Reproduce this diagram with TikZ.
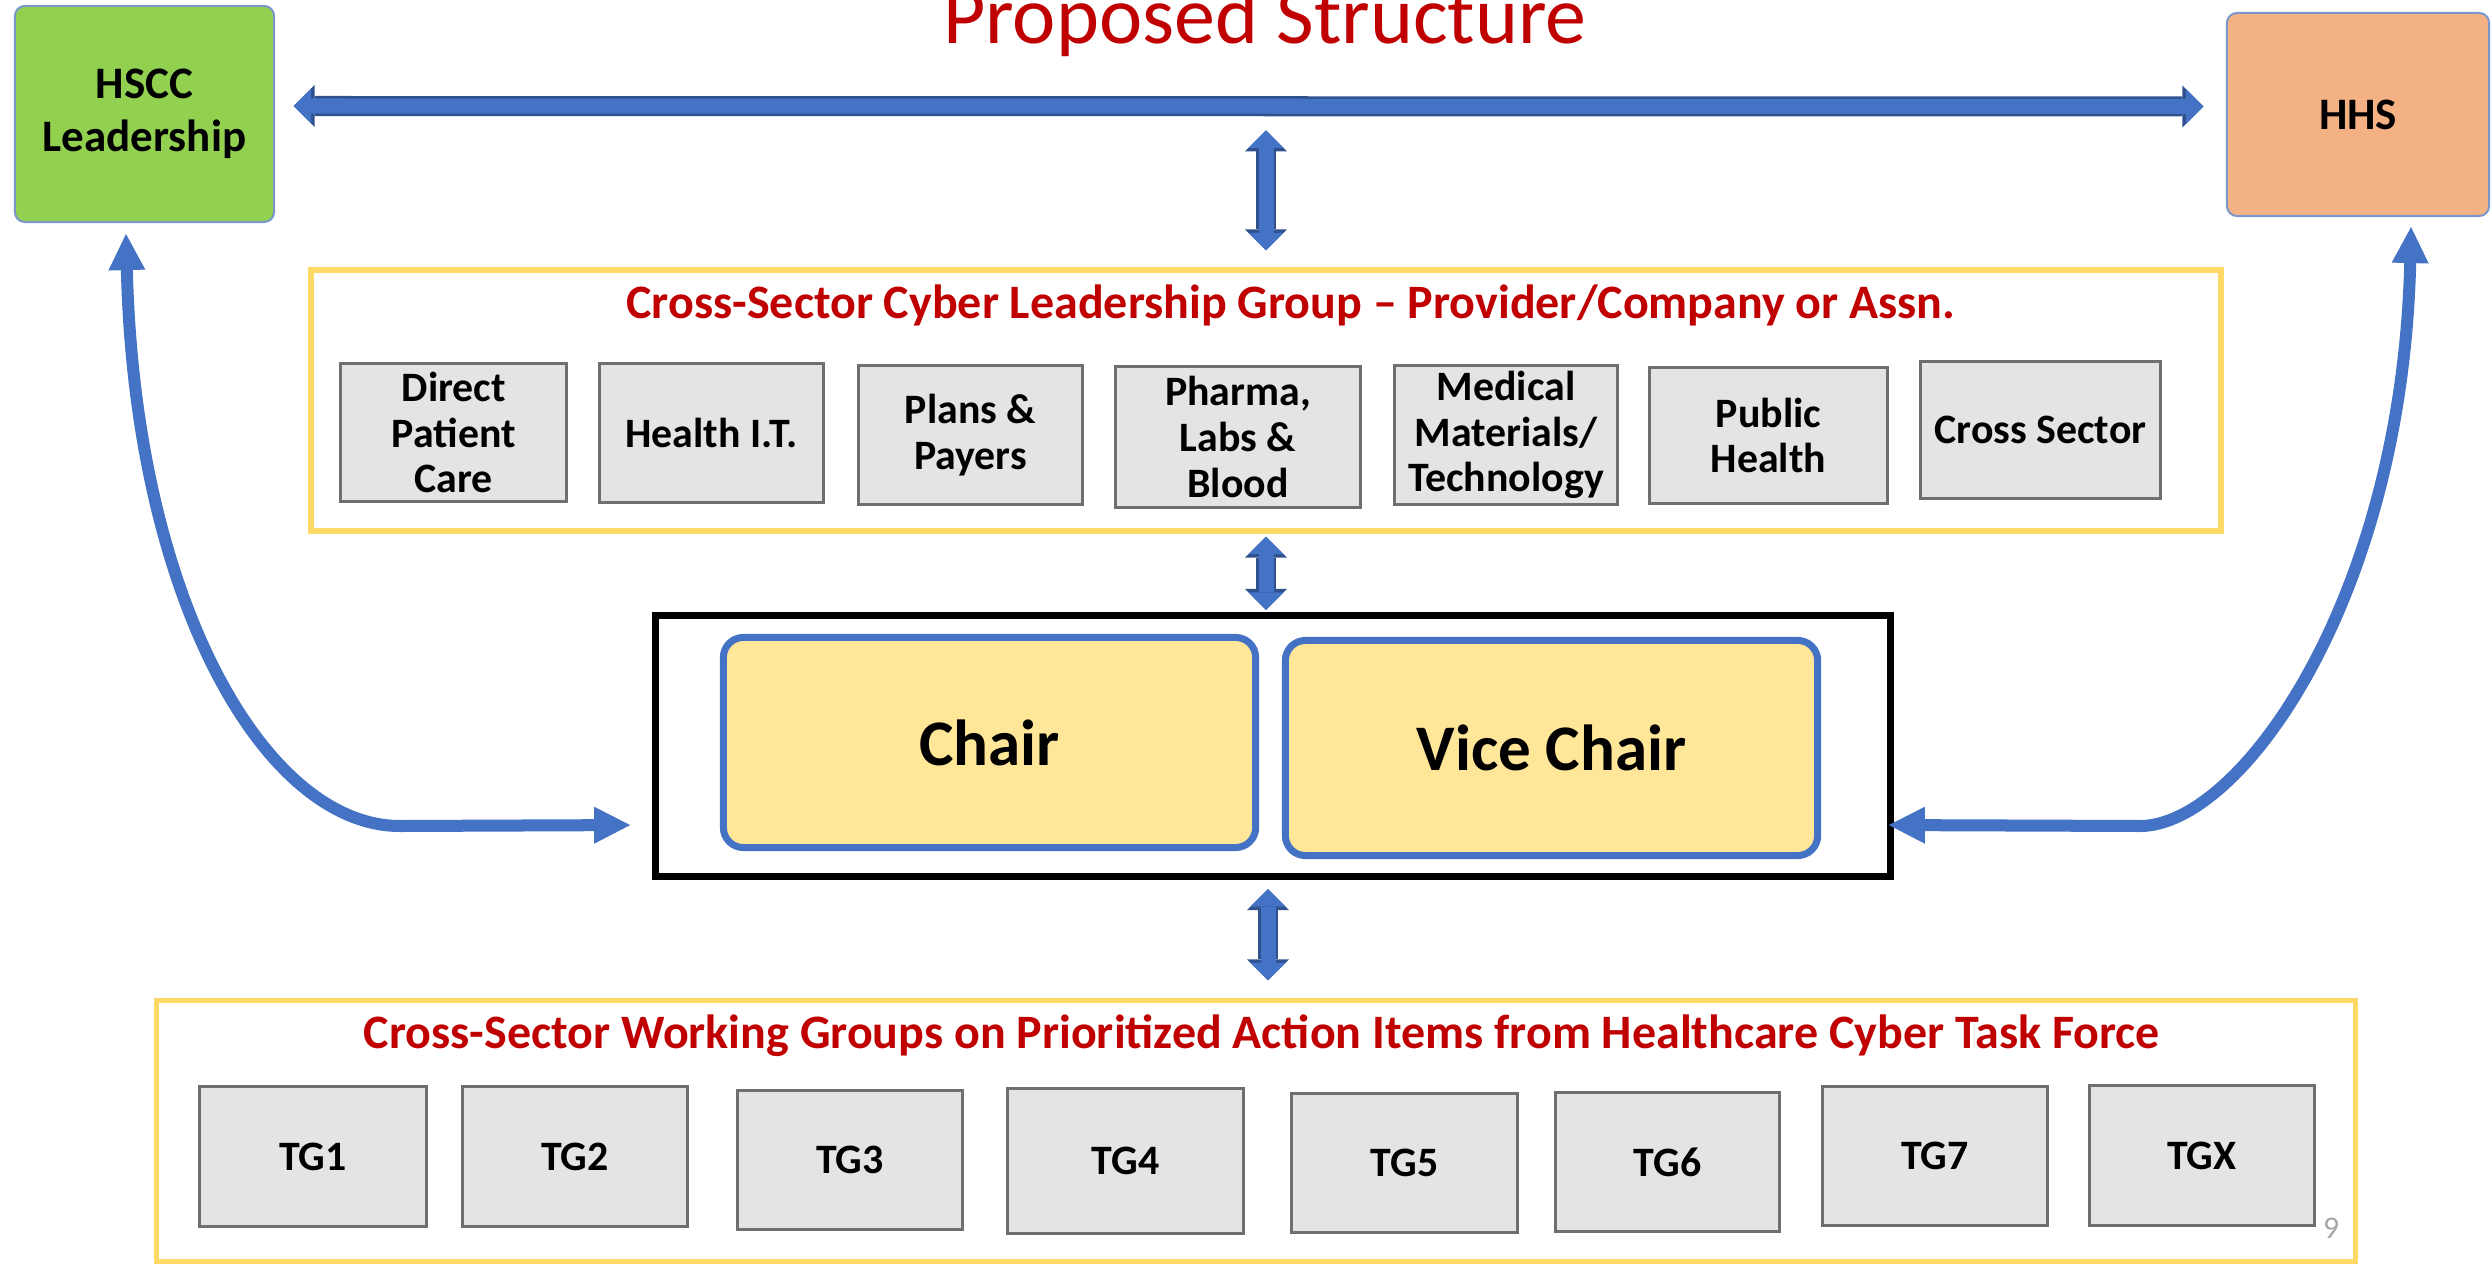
\documentclass[tikz,border=0pt]{standalone}
\usepackage{fontspec}
\setmainfont{Carlito}
\usetikzlibrary{positioning,arrows.meta}

\definecolor{hsccgreen}{HTML}{92D050}
\definecolor{hhsorange}{HTML}{F4B183}
\definecolor{orgedge}{HTML}{7A96CC}
\definecolor{titlered}{HTML}{C00000}
\definecolor{frameyellow}{HTML}{FFD966}
\definecolor{tilefill}{HTML}{E4E4E4}
\definecolor{tileedge}{HTML}{6F6F6F}
\definecolor{chairfill}{HTML}{FFE699}
\definecolor{chairblue}{HTML}{4472C4}
\definecolor{arrowblue}{HTML}{4472C4}
\definecolor{arrowedge}{HTML}{2F528F}
\definecolor{pagegray}{HTML}{A6A6A6}

\tikzset{
  orgbox/.style={draw=orgedge, line width=0.02cm, rounded corners=0.1cm, inner sep=0pt, align=center,
    font=\bfseries\fontsize{12.8}{15}\selectfont},
  frame/.style={draw=frameyellow, line width=0.06cm, inner sep=0pt},
  tile/.style={draw=tileedge, line width=0.03cm, fill=tilefill, inner sep=0pt, minimum height=1.39cm,
    align=center, font=\bfseries\fontsize{11.9}{13}\selectfont},
  seat/.style={draw=chairblue, line width=0.07cm, fill=chairfill, rounded corners=0.2cm,
    minimum width=5.32cm, font=\bfseries\fontsize{18.5}{22}\selectfont},
  heading/.style={text=titlered, anchor=base, inner sep=0pt, font=\bfseries\fontsize{13.65}{16}\selectfont},
  outertip/.style={arrows={Triangle[width=0.42cm,length=0.21cm,line width=0pt]-Triangle[width=0.42cm,length=0.21cm,line width=0pt]}},
  innertip/.style={arrows={Triangle[width=0.35cm,length=0.175cm,line width=0pt]-Triangle[width=0.35cm,length=0.175cm,line width=0pt]}},
  blockarrow/.style={preaction={draw=arrowedge, line width=0.2cm, outertip},
    draw=arrowblue, line width=0.15cm, innertip, shorten <=0.025cm, shorten >=0.025cm},
  curvearrow/.style={draw=arrowblue, line width=0.12cm,
    arrows={Triangle[width=0.37cm,length=0.36cm,line width=0pt]-Triangle[width=0.37cm,length=0.36cm,line width=0pt]}}
}

\begin{document}
\begin{tikzpicture}[x=0.01cm, y=-0.01cm]
  \useasboundingbox (0,0) rectangle (2492,1264);

  % top row
  \node[orgbox, fill=hsccgreen, minimum width=2.59cm, minimum height=2.16cm] (hscc) at (144.5,114) {HSCC\\Leadership};
  \node[orgbox, fill=hhsorange, minimum width=2.62cm, minimum height=2.03cm] (hhs) at (2358,114.5) {HHS};
  \node[text=titlered, anchor=base, inner sep=0pt, font=\fontsize{23.3}{28}\selectfont] (title) at (1265,44) {Proposed Structure};

  % leadership group
  \node[frame, minimum width=19.08cm, minimum height=2.61cm] (lead) at (1266,400.5) {};
  \node[heading] (leadtitle) at (1291,318) {Cross-Sector Cyber Leadership Group -- Provider/Company or Assn.};
  \node[tile, minimum width=2.255cm, minimum height=1.38cm] (care) at (453.75,432.5) {Direct\\Patient\\Care};
  \node[tile, minimum width=2.24cm] (healthit) at (711.5,433) {Health I.T.};
  \node[tile, minimum width=2.24cm] (plans) at (970.5,435) {Plans \&\\Payers};
  \node[tile, minimum width=2.45cm, minimum height=1.41cm] (pharma) at (1238,437) {Pharma,\\Labs \&\\Blood};
  \node[tile, minimum width=2.23cm] (medical) at (1506,435) {Medical\\Materials/\\Technology};
  \node[tile, minimum width=2.38cm, minimum height=1.36cm] (public) at (1768.5,435.5) {Public\\Health};
  \node[tile, minimum width=2.40cm, minimum height=1.37cm] (crosssector) at (2040.5,430) {Cross Sector};

  % chair board
  \node[draw, line width=0.07cm, minimum width=12.34cm, minimum height=2.6cm] (board) at (1273,746) {};
  \node[seat, minimum height=2.1cm] (chair) at (989.5,742.5) {Chair};
  \node[seat, minimum height=2.15cm] (vicechair) at (1551.5,748) {Vice Chair};

  % working groups
  \node[frame, line width=0.05cm, minimum width=21.97cm, minimum height=2.605cm] (work) at (1256,1130.75) {};
  \node[heading] (worktitle) at (1262,1048) {Cross-Sector Working Groups on Prioritized Action Items from Healthcare Cyber Task Force};
  \node[tile, minimum width=2.27cm] (tg1) at (313,1156.5) {TG1};
  \node[tile, minimum width=2.25cm] (tg2) at (575,1156.5) {TG2};
  \node[tile, minimum width=2.25cm] (tg3) at (850,1160) {TG3};
  \node[tile, minimum width=2.36cm, minimum height=1.45cm] (tg4) at (1125.5,1161) {TG4};
  \node[tile, minimum width=2.26cm] (tg5) at (1404.5,1163) {TG5};
  \node[tile, minimum width=2.24cm] (tg6) at (1667.5,1162) {TG6};
  \node[tile, minimum width=2.25cm] (tg7) at (1935,1156) {TG7};
  \node[tile, minimum width=2.25cm, minimum height=1.40cm] (tgx) at (2202,1155.5) {TGX};
  \node[text=pagegray, inner sep=0pt, font=\fontsize{9}{10}\selectfont] (pageno) at (2331,1228) {9};

  % connectors
  \coordinate (relay) at ([yshift=1.39cm]lead.north);
  \draw[blockarrow] ([xshift=0.16cm,yshift=0.08cm]hscc.east) -- ([xshift=-0.2cm,yshift=0.08cm]hhs.west);
  \draw[blockarrow] (relay) -- ([yshift=0.14cm]lead.north);
  \draw[blockarrow] (lead.south) -- (lead.south |- board.north);
  \draw[blockarrow] ([xshift=-0.05cm,yshift=-0.07cm]board.south) -- ([xshift=-0.05cm,yshift=0.15cm]board.south |- work.north);
  \draw[curvearrow] ([xshift=-0.185cm,yshift=-0.11cm]hscc.south) .. controls (135,600) and (265,826) .. (400,826)
    -- ([xshift=-0.22cm,yshift=-0.79cm]board.west);
  \draw[curvearrow] ([xshift=0.53cm,yshift=-0.1cm]hhs.south) .. controls (2402,600) and (2240,826) .. (2140,826)
    -- ([xshift=-0.05cm,yshift=-0.79cm]board.east);
\end{tikzpicture}
\end{document}
